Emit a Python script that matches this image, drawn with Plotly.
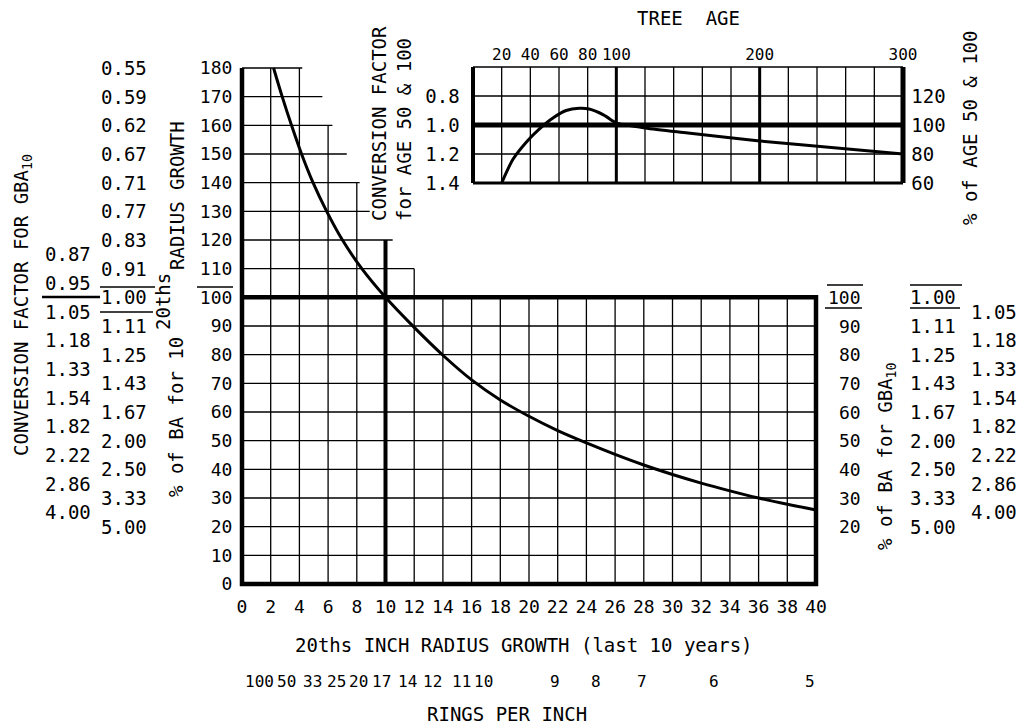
import plotly.graph_objects as go

W, H = 1024, 727
FONT = "DejaVu Sans Mono"

# ------------------------------------------------------------------ data
growth_20ths = [2.2, 2.8, 3.45, 4.15, 4.95, 5.9, 7.0, 8.35, 10, 12, 14, 16, 18, 20,
                22, 24, 26, 28, 30, 32, 34, 36, 38, 40]
pct_ba = [180, 170, 160, 150, 140, 130, 120, 110, 100, 89.5, 79.8, 71.2, 64.2, 58.5,
          53.5, 49.2, 45.2, 41.5, 38.2, 35.2, 32.5, 30, 27.8, 25.8]

tree_age = [20, 28, 37, 46, 56, 65, 74, 81, 91, 98, 100, 120, 150, 200, 250, 300]
pct_age = [60, 76.5, 88, 97, 105, 110, 111.5, 111, 107, 102.5, 101.5, 98, 94.5, 89, 84.5, 80]

x_ticks = list(range(0, 41, 2))
y_ticks = list(range(0, 181, 10))

# staircase grid above 100 %
col_top = {0: 180, 2: 180, 4: 180, 6: 160, 8: 140, 10: 120, 12: 110}
row_end = {110: 12, 120: 10.5, 130: 8.9, 140: 8.2, 150: 7.3, 160: 6.3, 170: 5.6, 180: 4.2}

convA_rows = [115, 105, 95, 85, 75, 65, 55, 45, 35, 25]
convA_labels = ["0.87", "0.95", "1.05", "1.18", "1.33", "1.54", "1.82", "2.22", "2.86", "4.00"]
convB_rows = list(range(180, 10, -10))
convB_labels = ["0.55", "0.59", "0.62", "0.67", "0.71", "0.77", "0.83", "0.91", "1.00",
                "1.11", "1.25", "1.43", "1.67", "2.00", "2.50", "3.33", "5.00"]
right_pct_rows = list(range(100, 10, -10))
right_convC_labels = ["1.00", "1.11", "1.25", "1.43", "1.67", "2.00", "2.50", "3.33", "5.00"]
right_convD_rows = [95, 85, 75, 65, 55, 45, 35, 25]
right_convD_labels = ["1.05", "1.18", "1.33", "1.54", "1.82", "2.22", "2.86", "4.00"]

rings_labels = ["100", "50", "33", "25", "20", "17", "14", "12", "11", "10", "9", "8", "7", "6", "5"]
rings_pos = [1.25, 3.1, 4.9, 6.6, 8.1, 9.7, 11.5, 13.3, 15.3, 16.8, 21.8, 24.7, 27.9, 32.9, 39.6]

age_ticks = [20, 40, 60, 80, 100, 200, 300]
age_grid = list(range(0, 301, 20))
inset_pct_grid = [60, 80, 100, 120, 140]
inset_left_vals = [120, 100, 80, 60]
inset_left_text = ["0.8", "1.0", "1.2", "1.4"]


# ------------------------------------------------------------------ geometry helpers
def px_x(px):
    return px / W


def px_y(py):
    return (H - py) / H


# main chart: pixel of x=0 / x=40 and y=0 / y=180
MX0, MX1, MY0, MY1 = 242, 816, 584, 68
xr = [-0.6, 40.6]
yr = [-1.5, 181.5]
sx = (MX1 - MX0) / 40
sy = (MY0 - MY1) / 180
dom_x = [px_x(MX0 + xr[0] * sx), px_x(MX0 + xr[1] * sx)]
dom_y = [px_y(MY0 - yr[0] * sy), px_y(MY0 - yr[1] * sy)]

# inset: pixel of age 0 / 300 and pct 60 / 140
IX0, IX1, IY0, IY1 = 473, 903, 183, 67
ixr = [-3, 303]
iyr = [58, 142]
isx = (IX1 - IX0) / 300
isy = (IY0 - IY1) / 80
idom_x = [px_x(IX0 + ixr[0] * isx), px_x(IX0 + ixr[1] * isx)]
idom_y = [px_y(IY0 - (iyr[0] - 60) * isy), px_y(IY0 - (iyr[1] - 60) * isy)]


def segs(pairs):
    xs, ys = [], []
    for x0, y0, x1, y1 in pairs:
        xs += [x0, x1, None]
        ys += [y0, y1, None]
    return xs, ys


fig = go.Figure()


def add_lines(xs, ys, width, xa="x", ya="y"):
    fig.add_trace(go.Scatter(x=xs, y=ys, mode="lines", xaxis=xa, yaxis=ya,
                             line=dict(color="black", width=width),
                             hoverinfo="skip", showlegend=False))


# ---- main grid
grid = [(gx, 0, gx, col_top.get(gx, 100)) for gx in x_ticks]
grid += [(0, gy, row_end.get(gy, 40), gy) for gy in y_ticks]
add_lines(*segs(grid), 1.3)
# heavy frame
add_lines([0, 0, 40, 40, 0], [180, 0, 0, 100, 100], 4.5)
add_lines(*segs([(10, 0, 10, 120)]), 4)
# curve
fig.add_trace(go.Scatter(x=growth_20ths, y=pct_ba, mode="lines",
                         line=dict(color="black", width=3, shape="spline", smoothing=0.8),
                         hoverinfo="skip", showlegend=False))

# ---- inset grid
igrid = [(a, 60, a, 140) for a in age_grid] + [(0, p, 300, p) for p in inset_pct_grid]
add_lines(*segs(igrid), 1.3, "x2", "y2")
add_lines(*segs([(100, 60, 100, 140), (200, 60, 200, 140), (0, 60, 300, 60)]), 3, "x2", "y2")
add_lines(*segs([(0, 60, 0, 140)]), 4, "x2", "y2")
add_lines(*segs([(300, 60, 300, 140), (0, 100, 300, 100)]), 5, "x2", "y2")
fig.add_trace(go.Scatter(x=tree_age, y=pct_age, mode="lines", xaxis="x2", yaxis="y2",
                         line=dict(color="black", width=3, shape="spline", smoothing=0.8),
                         hoverinfo="skip", showlegend=False))
# invisible trace for the right inset axis
fig.add_trace(go.Scatter(x=[0], y=[100], xaxis="x2", yaxis="y3", mode="markers",
                         marker=dict(opacity=0), hoverinfo="skip", showlegend=False))

tick_font = dict(family=FONT, size=18, color="black")
axis_common = dict(showgrid=False, zeroline=False, showline=False, ticks="", automargin=False,
                   fixedrange=True)

fig.update_layout(
    width=W, height=H, margin=dict(l=0, r=0, t=0, b=0),
    paper_bgcolor="white", plot_bgcolor="rgba(0,0,0,0)",
    template="none", showlegend=False,
    font=dict(family=FONT, size=18, color="black"),
    xaxis=dict(domain=dom_x, range=xr, tickmode="array", tickvals=x_ticks,
               tickfont=tick_font, ticklabelstandoff=6, anchor="y", **axis_common),
    yaxis=dict(domain=dom_y, range=yr, tickmode="array", tickvals=y_ticks,
               tickfont=tick_font, ticklabelstandoff=0, anchor="x", **axis_common),
    xaxis2=dict(domain=idom_x, range=ixr, side="top", anchor="y2", tickmode="array",
                tickvals=age_ticks, tickfont=dict(family=FONT, size=16, color="black"),
                ticklabelstandoff=0, **axis_common),
    yaxis2=dict(domain=idom_y, range=iyr, anchor="x2", tickmode="array",
                tickvals=inset_left_vals, ticktext=inset_left_text,
                tickfont=dict(family=FONT, size=19, color="black"), ticklabelstandoff=8,
                **axis_common),
    yaxis3=dict(range=iyr, overlaying="y2", side="right", anchor="x2", tickmode="array",
                tickvals=inset_left_vals, tickfont=dict(family=FONT, size=19, color="black"),
                ticklabelstandoff=3, **axis_common),
)

ann = []


def col(rows, labels, right_px, size=19):
    for r, t in zip(rows, labels):
        ann.append(dict(x=px_x(right_px), y=r, xref="paper", yref="y", text=t, showarrow=False,
                        xanchor="right", yanchor="middle",
                        font=dict(family=FONT, size=size, color="black")))


col(convA_rows, convA_labels, 93)
col(convB_rows, convB_labels, 149)
col(right_pct_rows, [str(v) for v in right_pct_rows], 863, 18)
col(right_pct_rows, right_convC_labels, 958)
col(right_convD_rows, right_convD_labels, 1019)

for p, t in zip(rings_pos, rings_labels):
    ann.append(dict(x=p, y=px_y(681), xref="x", yref="paper", text=t, showarrow=False,
                    xanchor="center", yanchor="middle",
                    font=dict(family=FONT, size=16, color="black")))


def text(px, py, t, angle=0, size=19):
    ann.append(dict(x=px_x(px), y=px_y(py), xref="paper", yref="paper", text=t, showarrow=False,
                    textangle=angle, xanchor="center", yanchor="middle",
                    font=dict(family=FONT, size=size, color="black")))


text(524, 645, "20ths INCH RADIUS GROWTH (last 10 years)")
text(507, 714, "RINGS PER INCH")
text(688, 18, "TREE  AGE")
text(22, 305, "CONVERSION FACTOR FOR GBA<sub>10</sub>", -90)
text(177, 196, "RADIUS GROWTH", -90)
text(163, 302, "20ths", -90)
text(176, 417, "% of BA for 10", -90)
text(886, 456, "% of BA for GBA<sub>10</sub>", -90)
text(379, 124, "CONVERSION FACTOR", -90)
text(404, 130, "for AGE 50 & 100", -90)
text(970, 128, "% of AGE 50 & 100", -90)

fig.update_layout(annotations=ann)

# fraction bars around the 100 % / 1.00 labels
bars = [(197, 287, 233, 287, 1.5), (100, 287, 155, 287, 1.5), (100, 312, 153, 312, 1.5),
        (42, 297, 100, 297, 2.5), (827, 285, 863, 285, 1.5), (825, 308, 862, 308, 1.5),
        (910, 285, 962, 285, 1.5), (910, 308, 960, 308, 1.5)]
for x0, y0, x1, y1, w in bars:
    fig.add_shape(type="line", xref="paper", yref="paper", x0=px_x(x0), y0=px_y(y0),
                  x1=px_x(x1), y1=px_y(y1), line=dict(color="black", width=w))

fig.write_html("out.html", config={"displayModeBar": False, "staticPlot": True},
               post_script="document.body.style.margin='0px';document.body.style.overflow='hidden';")
